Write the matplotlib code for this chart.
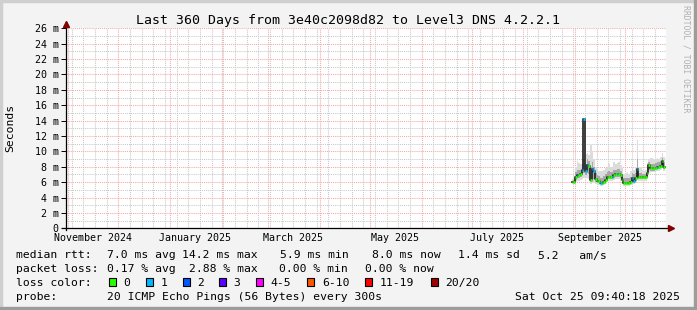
import matplotlib
matplotlib.use("Agg")
import matplotlib.pyplot as plt
import matplotlib.dates as mdates
from matplotlib.patches import Rectangle
from matplotlib.ticker import MultipleLocator, NullFormatter
from datetime import datetime, timedelta

W, H = 697, 310
MONO = "DejaVu Sans Mono"

start = datetime(2024, 10, 30, 9, 40, 18)
end = datetime(2025, 10, 25, 9, 40, 18)
first_day = datetime(2025, 8, 30)

# daily median rtt (ms), pings lost out of 20, smoke extents (ms)
median = [6.06, 6.06, 6.7, 6.9, 6.9, 7.0, 7.6, 14.2, 7.4, 8.2,
          8.1, 6.3, 7.7, 7.4, 6.4, 6.2, 6.2, 5.85, 5.85, 6.0,
          6.3, 6.7, 6.7, 6.7, 6.7, 6.9, 7.0, 7.0, 7.0, 6.9,
          6.3, 5.9, 5.9, 5.9, 5.9, 6.0, 6.5, 6.2, 6.5, 7.7,
          6.7, 6.7, 6.7, 6.7, 6.7, 7.2, 8.2, 7.8, 7.8, 7.8,
          7.9, 8.0, 8.0, 8.1, 8.7, 8.0]
lost = [0, 0, 0, 1, 0, 0, 1, 1, 1, 1,
        0, 0, 1, 1, 0, 0, 0, 1, 0, 0,
        0, 0, 0, 0, 1, 0, 0, 1, 0, 0,
        0, 0, 0, 0, 0, 0, 1, 1, 0, 1,
        0, 0, 0, 0, 0, 0, 0, 0, 0, 0,
        0, 1, 0, 0, 0, 0]
smoke_lo = [5.9, 5.9, 6.0, 6.2, 6.2, 6.3, 6.4, 6.6, 6.5, 6.6,
            6.4, 5.8, 6.0, 5.9, 5.7, 5.6, 5.6, 5.5, 5.5, 5.6,
            5.8, 6.1, 6.1, 6.1, 6.2, 6.3, 6.4, 6.4, 6.4, 6.3,
            5.8, 5.5, 5.5, 5.5, 5.5, 5.6, 5.9, 5.7, 5.9, 6.3,
            6.2, 6.2, 6.2, 6.2, 6.2, 6.5, 7.2, 7.3, 7.3, 7.3,
            7.4, 7.5, 7.5, 7.6, 7.9, 7.5]
smoke_lo2 = [6.0, 6.0, 6.3, 6.5, 6.6, 6.7, 6.9, 7.2, 6.9, 7.2,
             7.0, 6.0, 6.6, 6.4, 6.0, 5.9, 5.9, 5.7, 5.7, 5.8,
             6.0, 6.4, 6.4, 6.4, 6.4, 6.6, 6.7, 6.7, 6.7, 6.6,
             6.0, 5.7, 5.7, 5.7, 5.7, 5.8, 6.2, 5.9, 6.2, 6.8,
             6.4, 6.4, 6.4, 6.4, 6.4, 6.8, 7.6, 7.5, 7.5, 7.5,
             7.6, 7.7, 7.7, 7.8, 8.2, 7.7]
smoke_hi2 = [6.2, 6.3, 7.3, 7.6, 7.6, 7.6, 8.3, 9.0, 8.4, 9.0,
             8.8, 8.0, 8.6, 8.0, 7.2, 6.9, 6.8, 6.6, 6.6, 6.8,
             7.0, 7.3, 7.4, 7.3, 7.3, 7.6, 7.6, 7.7, 7.7, 7.5,
             7.0, 6.5, 6.6, 6.6, 6.5, 6.7, 7.2, 7.0, 7.2, 9.0,
             7.2, 7.2, 7.1, 7.1, 7.1, 7.8, 8.6, 8.4, 8.4, 8.4,
             8.5, 8.6, 8.6, 8.7, 9.2, 8.6]
smoke_hi = [6.4, 6.6, 8.0, 8.7, 8.5, 8.3, 9.0, 14.3, 9.6, 9.8,
            9.5, 10.8, 10.0, 9.0, 8.0, 7.6, 7.4, 7.5, 7.4, 7.6,
            7.8, 8.0, 8.3, 8.0, 8.0, 8.6, 8.3, 8.5, 8.6, 8.2,
            7.8, 7.0, 7.2, 7.3, 7.0, 7.4, 8.0, 7.6, 8.0, 11.5,
            8.0, 7.8, 7.6, 7.5, 7.6, 8.5, 9.0, 9.2, 9.1, 9.0,
            9.0, 9.2, 9.0, 9.3, 9.8, 9.3]

month_labels = ["November 2024", "January 2025", "March 2025",
                "May 2025", "July 2025", "September 2025"]
label_dates = [datetime(2024, 11, 16), datetime(2025, 1, 16), datetime(2025, 3, 16),
               datetime(2025, 5, 16), datetime(2025, 7, 16), datetime(2025, 9, 16)]

loss_names = ["0", "1", "2", "3", "4-5", "6-10", "11-19", "20/20"]
loss_colors = ["#26ff00", "#00b8ff", "#0059ff", "#5e00ff",
               "#ff00ff", "#ff5500", "#ff0000", "#a10000"]
loss_upper = [0, 1, 2, 3, 5, 10, 19, 20]

row_rtt = ["median rtt:", "7.0 ms avg", "14.2 ms max", "5.9 ms min",
           "8.0 ms now", "1.4 ms sd", "5.2   am/s"]
row_loss = ["packet loss:", "0.17 % avg", "2.88 % max", "0.00 % min", "0.00 % now"]
probe_text = "20 ICMP Echo Pings (56 Bytes) every 300s"
stamp = "Sat Oct 25 09:40:18 2025"
title = "Last 360 Days from 3e40c2098d82 to Level3 DNS 4.2.2.1"


def fx(px):
    return px / W


def fy(py):
    return 1 - py / H


def loss_color(n):
    for up, c in zip(loss_upper, loss_colors):
        if n <= up:
            return c
    return loss_colors[-1]


fig = plt.figure(figsize=(W / 100, H / 100), dpi=100)
fig.patch.set_facecolor("#f3f3f3")

# 3d-ish frame
fig.patches.append(Rectangle((0, fy(2)), 1, fy(0) - fy(2), transform=fig.transFigure, color="#cfcfcf"))
fig.patches.append(Rectangle((0, 0), fx(2), 1, transform=fig.transFigure, color="#cfcfcf"))
fig.patches.append(Rectangle((fx(694), 0), fx(3), 1, transform=fig.transFigure, color="#9c9c9c"))
fig.patches.append(Rectangle((0, 0), 1, fy(307), transform=fig.transFigure, color="#9c9c9c"))

x0, x1, ytop, ybot = 65.6, 665.6, 28.3, 228.3
ax = fig.add_axes([fx(x0), fy(ybot), fx(x1 - x0), fy(ytop) - fy(ybot)])
ax.set_facecolor("white")
ax.set_xlim(start, end)
ax.set_ylim(0, 26)
for s in ax.spines.values():
    s.set_visible(False)

# grid
ax.xaxis.set_major_locator(mdates.MonthLocator())
ax.xaxis.set_minor_locator(mdates.WeekdayLocator(byweekday=mdates.SU))
ax.xaxis.set_major_formatter(NullFormatter())
ax.yaxis.set_major_locator(MultipleLocator(2))
ax.yaxis.set_minor_locator(MultipleLocator(1))
ax.grid(which="minor", color="#c8c8c8", linestyle=(0, (1, 1)), linewidth=0.75)
ax.grid(which="major", color="#f4a8a8", linestyle=(0, (1, 1)), linewidth=0.75)
ax.set_axisbelow(True)
ax.tick_params(axis="x", which="both", length=0)
ax.tick_params(axis="y", which="minor", length=0)
ax.tick_params(axis="y", which="major", length=3.5, width=0.7, color="black", pad=1.5)
yt = list(range(0, 27, 2))
ax.set_yticks(yt)
ax.set_yticklabels([f"{v} m" if v else "0" for v in yt], family=MONO, fontsize=7.2)

# data
days = [first_day + timedelta(days=i) for i in range(len(median))]
edges = days + [days[-1] + timedelta(days=1)]
ax.fill_between(edges, smoke_lo + [smoke_lo[-1]], smoke_hi + [smoke_hi[-1]],
                step="post", color="#dcdcdc", linewidth=0)
ax.fill_between(edges, smoke_lo2 + [smoke_lo2[-1]], smoke_hi2 + [smoke_hi2[-1]],
                step="post", color="#a8a8a8", linewidth=0)
ax.step(edges, median + [median[-1]], where="post", color="#202020", linewidth=1.2)
for d, m, n in zip(days, median, lost):
    ax.plot([d, d + timedelta(days=1)], [m, m], color=loss_color(n),
            linewidth=2.0, solid_capstyle="butt")

# axis lines with arrows
ax.plot([0, 0], [-0.01, 1.03], transform=ax.transAxes, color="black", lw=0.9, clip_on=False)
ax.plot([-0.006, 1.005], [0, 0], transform=ax.transAxes, color="black", lw=0.9, clip_on=False)
ax.plot([0], [1.02], transform=ax.transAxes, marker="^", ms=4.5, color="#800000", clip_on=False)
ax.plot([1.009], [0], transform=ax.transAxes, marker=">", ms=4.5, color="#800000", clip_on=False)

for lab, d in zip(month_labels, label_dates):
    ax.text(d, -0.05, lab, transform=ax.get_xaxis_transform(), ha="center", va="center",
            family=MONO, fontsize=7.2)

fig.text(0.5, fy(24), title, ha="center", va="baseline", family=MONO, fontsize=9.5)
fig.text(fx(10), fy(128), "Seconds", rotation=90, ha="center", va="center",
         family=MONO, fontsize=8.2)
fig.text(fx(686), fy(5), "RRDTOOL / TOBI OETIKER", rotation=270, ha="center", va="top",
         family=MONO, fontsize=5.9, color="#b0b0b0")

# legend
LF = 8.2
rtt_x = [16, 107, 182, 280, 372.5, 458, 538]
for px, t in zip(rtt_x, row_rtt):
    fig.text(fx(px), fy(258.5), t, family=MONO, fontsize=LF, va="baseline")
loss_x = [16, 107, 189, 279, 365]
for px, t in zip(loss_x, row_loss):
    fig.text(fx(px), fy(272.2), t, family=MONO, fontsize=LF, va="baseline")
fig.text(fx(16), fy(285.8), "loss color:", family=MONO, fontsize=LF, va="baseline")
box_x = [109, 145.7, 182.7, 219, 255.7, 307.3, 365, 430.7]
for px, name, c in zip(box_x, loss_names, loss_colors):
    fig.patches.append(Rectangle((fx(px), fy(285.7)), fx(7), fy(277.7) - fy(285.7),
                                 transform=fig.transFigure, facecolor=c,
                                 edgecolor="black", linewidth=0.8))
    fig.text(fx(px + 14.5), fy(285.8), name, family=MONO, fontsize=LF, va="baseline")
fig.text(fx(16), fy(299.5), "probe:", family=MONO, fontsize=LF, va="baseline")
fig.text(fx(107), fy(299.5), probe_text, family=MONO, fontsize=LF, va="baseline")
fig.text(fx(680), fy(299.5), stamp, family=MONO, fontsize=LF, va="baseline", ha="right")

fig.savefig("out.png", dpi=100, facecolor=fig.get_facecolor())
